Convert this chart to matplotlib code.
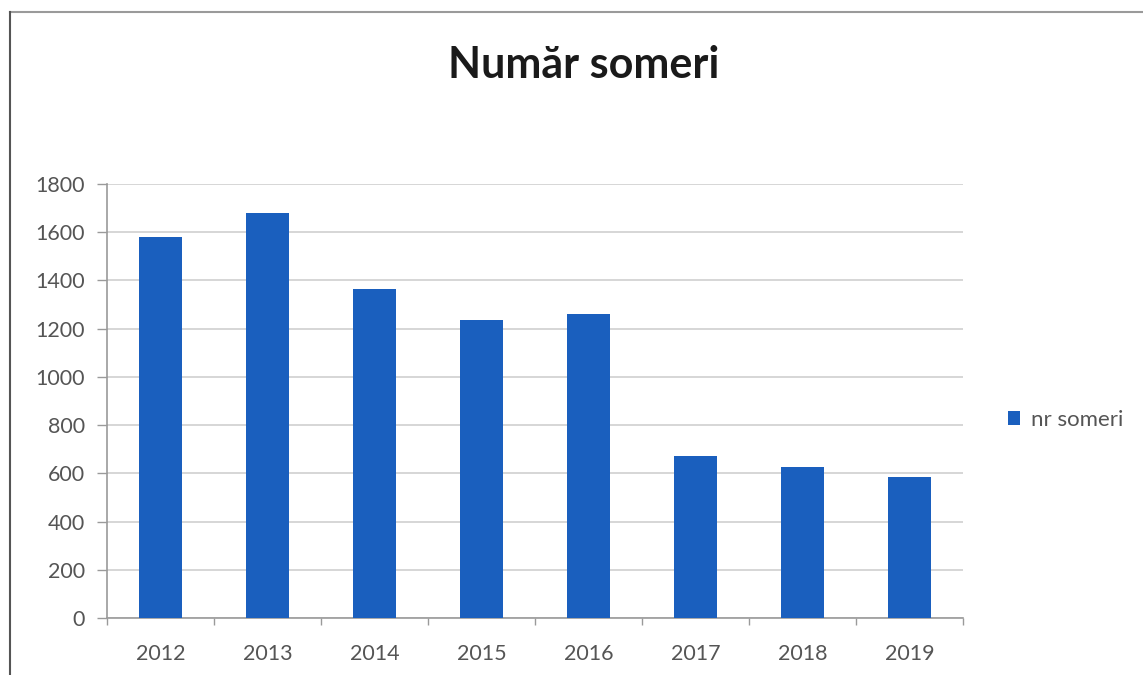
import matplotlib
matplotlib.use("Agg")
import matplotlib.pyplot as plt
from matplotlib.lines import Line2D
import numpy as np

years = ["2012", "2013", "2014", "2015", "2016", "2017", "2018", "2019"]
nr_someri = [1580, 1678, 1365, 1238, 1260, 672, 625, 585]
y_ticks = [0, 200, 400, 600, 800, 1000, 1200, 1400, 1600, 1800]
title = "Număr someri"
series_name = "nr someri"

bar_color = "#1a5fbe"
text_color = "#555555"
font = ["Lato", "DejaVu Sans"]

fig = plt.figure(figsize=(11.43, 6.75), dpi=100)
W, H = 1143, 675
left, right, top, bottom = 107, 963, 184, 618
ax = fig.add_axes([left / W, 1 - bottom / H, (right - left) / W, (bottom - top) / H])

x = np.arange(len(years))
ax.bar(x, nr_someri, width=0.4, color=bar_color, zorder=3, label=series_name)

ax.set_xlim(-0.5, len(years) - 0.5)
ax.set_ylim(0, 1800)
ax.set_yticks(y_ticks)
ax.set_yticklabels([str(v) for v in y_ticks], family=font, fontsize=15.5, color=text_color)
ax.set_xticks(x)
ax.set_xticklabels(years, family=font, fontsize=15.5, color=text_color)
ax.set_xticks(np.arange(len(years) + 1) - 0.5, minor=True)

ax.yaxis.grid(True, color="#cfcfcf", linewidth=1.2, zorder=0)
ax.set_axisbelow(True)
for s in ["top", "right"]:
    ax.spines[s].set_visible(False)
for s in ["left", "bottom"]:
    ax.spines[s].set_color("#9a9a9a")
    ax.spines[s].set_linewidth(1.2)

ax.tick_params(axis="y", which="major", length=7, width=1, color="#9a9a9a", pad=9)
ax.tick_params(axis="x", which="major", length=0, pad=19)
ax.tick_params(axis="x", which="minor", length=5, width=1, color="#9a9a9a")

fig.text(584 / W, 1 - 65 / H, title, ha="center", va="center",
         family=font, fontsize=31, fontweight="bold", color="#1a1a1a")

leg = ax.legend(loc="center left", bbox_to_anchor=(988 / W, 1 - 420 / H),
                bbox_transform=fig.transFigure, frameon=False,
                handlelength=0.55, handleheight=0.55, handletextpad=0.5,
                prop={"family": font, "size": 16})
for t in leg.get_texts():
    t.set_color(text_color)

# chart border lines
fig.add_artist(Line2D([10 / W, 1.0], [1 - 12 / H, 1 - 12 / H], transform=fig.transFigure,
                      color="#9a9a9a", linewidth=1.5))
fig.add_artist(Line2D([10 / W, 10 / W], [1 - 12 / H, 0.0], transform=fig.transFigure,
                      color="#555555", linewidth=1.5))

fig.savefig("out.png", dpi=100)
